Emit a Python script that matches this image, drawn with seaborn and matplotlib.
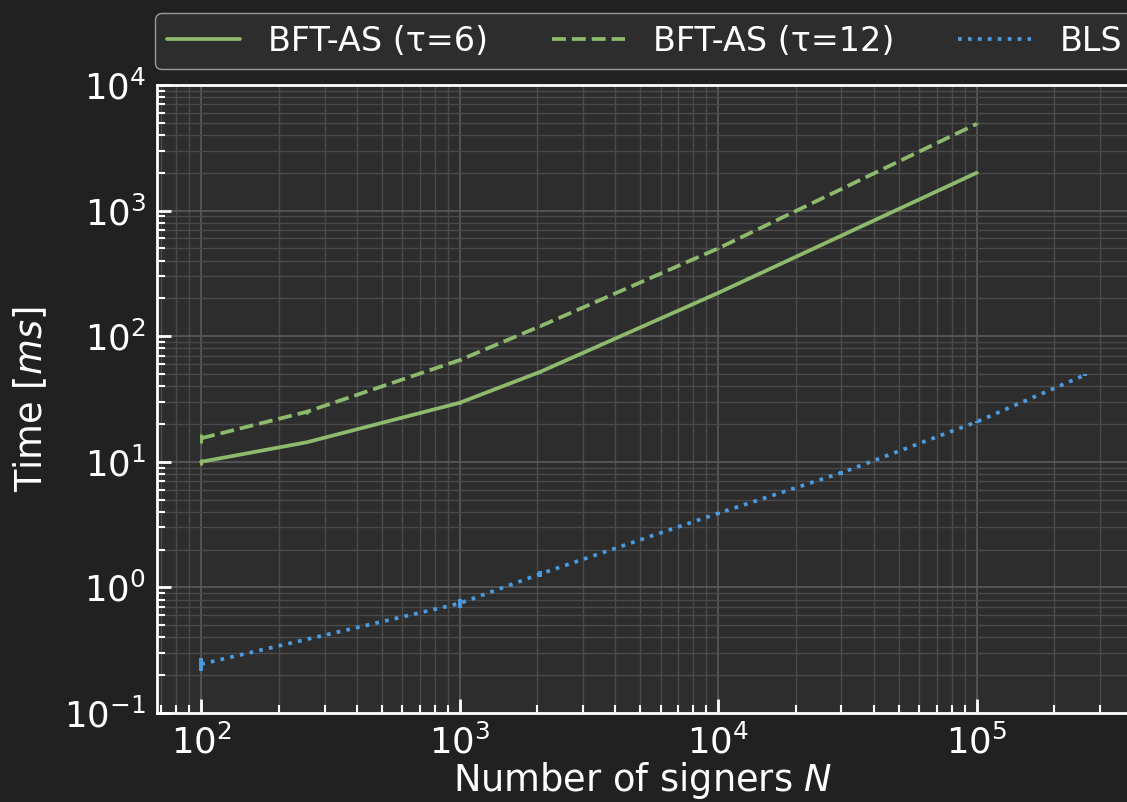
import numpy as np
import pandas as pd
import seaborn as sns
import matplotlib
matplotlib.use("Agg")
import matplotlib.pyplot as plt
from matplotlib.ticker import LogLocator

# values
n_bft = [100, 256, 1000, 2048, 10000, 100000]
t_bft6 = [10.0, 14.3, 29.5, 52.0, 221, 2000]
t_bft12 = [15.4, 25.0, 64.5, 120, 500, 4900]
err_bft6 = [0.5, 0.3, 0.5, 0.8, 2.0, 20]
err_bft12 = [1.4, 0.8, 1.0, 1.5, 4.0, 40]

n_bls = [100, 1000, 2048, 10000, 30000, 100000, 262144]
t_bls = [0.245, 0.746, 1.28, 3.89, 8.18, 20.8, 49.1]
err_bls = [0.03, 0.06, 0.08, 0.12, 0.3, 0.5, 1.0]

labels = ["BFT-AS (τ=6)", "BFT-AS (τ=12)", "BLS"]

green = "#8dba6c"
blue = "#4a9be0"
fig_bg = "#212121"
ax_bg = "#2d2d2d"

sns.set_theme(style="darkgrid", rc={
    "figure.facecolor": fig_bg,
    "axes.facecolor": ax_bg,
    "axes.edgecolor": "white",
    "axes.labelcolor": "white",
    "text.color": "white",
    "xtick.color": "white",
    "ytick.color": "white",
    "grid.color": "#555555",
})
plt.rcParams["font.family"] = ["DejaVu Sans"]
plt.rcParams["mathtext.fontset"] = "dejavusans"

df6 = pd.DataFrame({"N": n_bft, "t": t_bft6})
df12 = pd.DataFrame({"N": n_bft, "t": t_bft12})
dfb = pd.DataFrame({"N": n_bls, "t": t_bls})

fig = plt.figure(figsize=(11.27, 8.02), dpi=100)
ax = fig.add_axes([157 / 1127, 89 / 802, 972 / 1127, 628 / 802])

sns.lineplot(data=df6, x="N", y="t", ax=ax, color=green, lw=2.7,
             linestyle="-", label=labels[0])
sns.lineplot(data=df12, x="N", y="t", ax=ax, color=green, lw=2.7,
             linestyle="--", label=labels[1])
sns.lineplot(data=dfb, x="N", y="t", ax=ax, color=blue, lw=2.7,
             linestyle=":", label=labels[2])

ax.errorbar(n_bft, t_bft6, yerr=err_bft6, fmt="none", ecolor=green, elinewidth=2.2)
ax.errorbar(n_bft, t_bft12, yerr=err_bft12, fmt="none", ecolor=green, elinewidth=2.2)
ax.errorbar(n_bls, t_bls, yerr=err_bls, fmt="none", ecolor=blue, elinewidth=2.8)

ax.set_xscale("log")
ax.set_yscale("log")
ax.set_ylim(0.1, 1e4)
lo, hi = np.log10(min(n_bls)), np.log10(max(n_bls))
pad = 0.05 * (hi - lo)
ax.set_xlim(10 ** (lo - pad), 10 ** (hi + pad))

ax.xaxis.set_minor_locator(LogLocator(base=10, subs=np.arange(2, 10), numticks=20))
ax.yaxis.set_minor_locator(LogLocator(base=10, subs=np.arange(2, 10), numticks=20))
ax.grid(True, which="major", color="#5a5a5a", lw=1.2)
ax.grid(True, which="minor", color="#4a4a4a", lw=1.0)

ax.tick_params(which="major", direction="in", length=10, width=2, labelsize=25.5,
               left=True, bottom=True, pad=8)
ax.tick_params(which="minor", direction="in", length=6, width=1.5,
               left=True, bottom=True)
for s in ax.spines.values():
    s.set_color("white")
    s.set_linewidth(2)

ax.set_xlabel("Number of signers $N$", fontsize=26.5, labelpad=0)
ax.set_ylabel("Time [$ms$]", fontsize=26.5, labelpad=10)

leg = ax.legend(loc="lower left", bbox_to_anchor=(-0.002, 1.025),
                ncol=3, borderaxespad=0, fontsize=24, borderpad=0.35,
                handlelength=2.2, handletextpad=0.85, columnspacing=1.9,
                frameon=True, facecolor=ax_bg, edgecolor="#9a9a9a", framealpha=1)
for t in leg.get_texts():
    t.set_color("white")

fig.savefig("out.png", dpi=100, facecolor=fig_bg)
